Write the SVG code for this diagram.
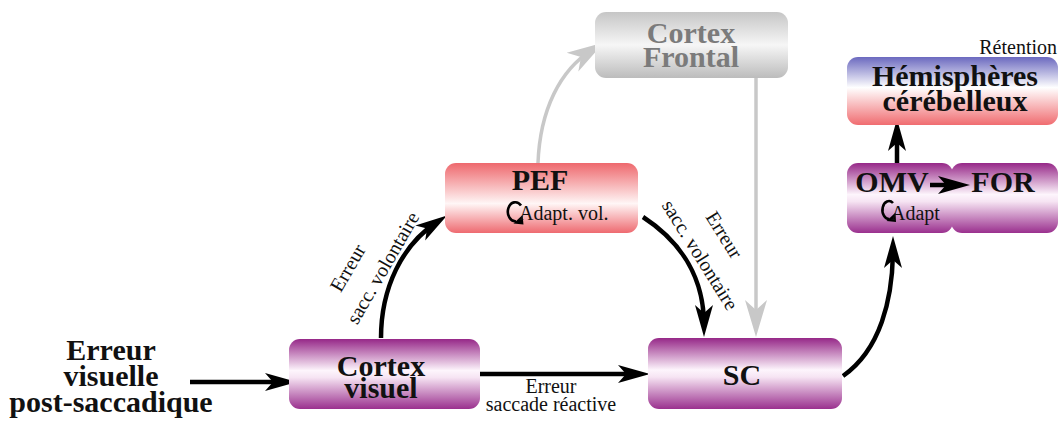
<svg xmlns="http://www.w3.org/2000/svg" width="1059" height="423" viewBox="0 0 1059 423">
<style>
.b{font-family:"Liberation Serif","Times New Roman",serif;font-weight:bold;font-size:30px;fill:#111;text-anchor:middle}
.g{fill:#7b7b7b}
.n{font-family:"Liberation Serif","Times New Roman",serif;font-size:20px;fill:#111}
.c{text-anchor:middle}
.ar{fill:none;stroke:#000;stroke-width:4.5}
.gr{fill:none;stroke:#c8c8c8;stroke-width:3.5}
.ic{fill:none;stroke:#000;stroke-width:2.6}
</style>
<defs>
<linearGradient id="purp" x1="0" y1="0" x2="0" y2="1">
<stop offset="0" stop-color="#962888"/><stop offset="0.45" stop-color="#fdf5fc"/><stop offset="0.55" stop-color="#f6e4f3"/><stop offset="1" stop-color="#9a308e"/>
</linearGradient>
<linearGradient id="red" x1="0" y1="0" x2="0" y2="1">
<stop offset="0" stop-color="#ee686d"/><stop offset="0.58" stop-color="#fff6f6"/><stop offset="1" stop-color="#ee6a70"/>
</linearGradient>
<linearGradient id="bluered" x1="0" y1="0" x2="0" y2="1">
<stop offset="0" stop-color="#6b69bf"/><stop offset="0.45" stop-color="#ffffff"/><stop offset="1" stop-color="#f06c70"/>
</linearGradient>
<linearGradient id="gray" x1="0" y1="0" x2="0" y2="1">
<stop offset="0" stop-color="#c6c6c6"/><stop offset="0.5" stop-color="#f6f6f6"/><stop offset="1" stop-color="#bcbcbc"/>
</linearGradient>
<marker id="ah" markerUnits="userSpaceOnUse" viewBox="-34 -12 40 24" markerWidth="40" markerHeight="24" refX="-12" refY="0" orient="auto" overflow="visible">
<path d="M0,0 L-32,-9 L-24,0 L-32,9 Z" fill="#000"/>
</marker>
<marker id="ahg" markerUnits="userSpaceOnUse" viewBox="-40 -14 46 28" markerWidth="46" markerHeight="28" refX="-14" refY="0" orient="auto" overflow="visible">
<path d="M0,0 L-37,-11 L-27,0 L-37,11 Z" fill="#c8c8c8"/>
</marker>
</defs>

<g id="connectors">
<path class="gr" d="M538,163 C540,110 560,70 592,50" marker-end="url(#ahg)"/>
<path class="gr" d="M756,78 L756,323" marker-end="url(#ahg)"/>
<path class="ar" d="M190,382 L285,382" marker-end="url(#ah)"/>
<path class="ar" d="M480,374 L638,374" marker-end="url(#ah)"/>
<path class="ar" d="M381,338 C381,288 402,245 437,222" marker-end="url(#ah)"/>
<path class="ar" d="M643,217 C683,243 704,280 704,325" marker-end="url(#ah)"/>
<path class="ar" d="M843,376 C880,350 893,300 893,248" marker-end="url(#ah)"/>
<path class="ar" d="M897,163 L897,131" marker-end="url(#ah)"/>
<text class="n c" x="551" y="393">Erreur</text>
<text class="n c" x="551" y="411">saccade réactive</text>
<text class="n c" transform="translate(348,268) rotate(-60)" y="6.5">Erreur</text>
<text class="n c" transform="translate(383,268) rotate(-60)" y="6.5">sacc. volontaire</text>
<text class="n c" transform="translate(724,235) rotate(58)" y="6.5">Erreur</text>
<text class="n c" transform="translate(700,255) rotate(58)" y="6.5">sacc. volontaire</text>
</g>

<g id="input">
<text class="b" x="111" y="360">Erreur</text>
<text class="b" x="111" y="386">visuelle</text>
<text class="b" x="111" y="412">post-saccadique</text>
</g>

<g id="cortex-visuel">
<rect x="289" y="339" width="191" height="70" rx="11" fill="url(#purp)"/>
<text class="b" x="381" y="376">Cortex</text>
<text class="b" x="381" y="398">visuel</text>
</g>

<g id="sc">
<rect x="648" y="338" width="194" height="71" rx="11" fill="url(#purp)"/>
<text class="b" x="742" y="385">SC</text>
</g>

<g id="pef">
<rect x="445" y="163" width="193" height="70" rx="11" fill="url(#red)"/>
<text class="b" x="540" y="190">PEF</text>
<path class="ic" d="M521,205.5 A7.5 9.5 0 1 0 516,221.2"/>
<path d="M522.5,215 L523.5,224.5 L513.5,223.5 Z" fill="#000"/>
<text class="n" x="519" y="220">Adapt. vol.</text>
</g>

<g id="cortex-frontal">
<rect x="595" y="12" width="193" height="66" rx="11" fill="url(#gray)"/>
<text class="b g" x="691" y="43">Cortex</text>
<text class="b g" x="691" y="67">Frontal</text>
</g>

<g id="hemispheres">
<rect x="847" y="57" width="211" height="68" rx="11" fill="url(#bluered)"/>
<text class="b" x="955" y="86">Hémisphères</text>
<text class="b" x="955" y="111">cérébelleux</text>
<text class="n" x="1057" y="54" text-anchor="end">Rétention</text>
</g>

<g id="for">
<rect x="951" y="163" width="107" height="70" rx="11" fill="url(#purp)"/>
<text class="b" x="1003" y="192">FOR</text>
</g>

<g id="omv">
<rect x="847" y="163" width="106" height="70" rx="11" fill="url(#purp)"/>
<text class="b" x="892" y="192">OMV</text>
<path class="ic" d="M893,203 A6.5 9 0 1 0 889.5,219"/>
<path d="M895.5,212.5 L896,222 L886.5,221 Z" fill="#000"/>
<text class="n" x="891" y="220">Adapt</text>
<path class="ar" d="M930,185 L958,185" marker-end="url(#ah)"/>
</g>
</svg>
